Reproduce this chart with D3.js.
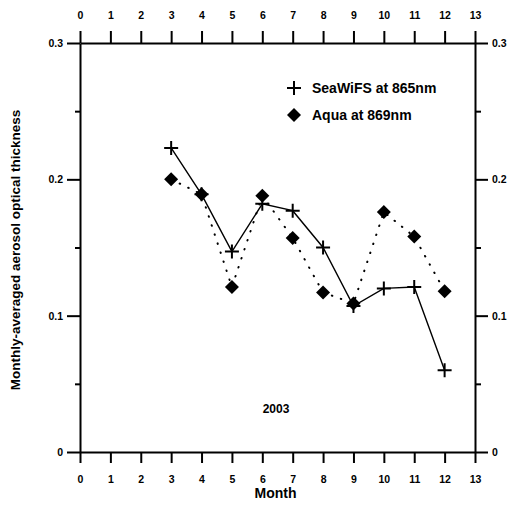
<!DOCTYPE html>
<html>
<head>
<meta charset="utf-8">
<script src="https://cdn.jsdelivr.net/npm/d3@7"></script>
<style>
  body { margin: 0; background: #fff; }
  text { font-family: "Liberation Sans", Arial, sans-serif; font-weight: bold; fill: #000; }
</style>
</head>
<body>
<div id="container"></div>
<script>
// data
const months = [3, 4, 5, 6, 7, 8, 9, 10, 11, 12];
const seawifs = [0.223, 0.189, 0.147, 0.182, 0.177, 0.150, 0.107, 0.120, 0.121, 0.060];
const aqua = [0.200, 0.189, 0.121, 0.188, 0.157, 0.117, 0.109, 0.176, 0.158, 0.118];
const xTicks = d3.range(0, 14);
const yTicks = [0, 0.1, 0.2, 0.3];
const yMinor = [0.05, 0.15, 0.25];
const yLabels = ["0", "0.1", "0.2", "0.3"];

// layout
const svgWidth = 523;
const svgHeight = 507;
const plotLeft = 80, plotRight = 475, plotTop = 43, plotBottom = 452;

const x = d3.scaleLinear().domain([0, 13]).range([plotLeft, plotRight]);
const y = d3.scaleLinear().domain([0, 0.3]).range([plotBottom, plotTop]);

const svg = d3.select("#container").append("svg")
  .attr("width", svgWidth)
  .attr("height", svgHeight);

// axes
function styleAxis(g) {
  g.selectAll("path").attr("stroke", "#000").attr("stroke-width", 2);
  g.selectAll("line").attr("stroke", "#000").attr("stroke-width", 2);
  g.selectAll("text").attr("font-size", 10.5);
}

svg.append("g")
  .attr("transform", `translate(0,${plotBottom})`)
  .call(d3.axisBottom(x).tickValues(xTicks).tickSize(11).tickSizeOuter(0).tickPadding(13))
  .call(styleAxis);

svg.append("g")
  .attr("transform", `translate(0,${plotTop})`)
  .call(d3.axisTop(x).tickValues(xTicks).tickSize(12).tickSizeOuter(0).tickPadding(12))
  .call(styleAxis);

svg.append("g")
  .attr("transform", `translate(${plotLeft},0)`)
  .call(d3.axisLeft(y).tickValues(yTicks).tickFormat((d, i) => yLabels[i]).tickSize(13).tickSizeOuter(0).tickPadding(4))
  .call(styleAxis);

svg.append("g")
  .attr("transform", `translate(${plotRight},0)`)
  .call(d3.axisRight(y).tickValues(yTicks).tickFormat((d, i) => yLabels[i]).tickSize(13).tickSizeOuter(0).tickPadding(4))
  .call(styleAxis);

// minor ticks on y
svg.append("g")
  .attr("transform", `translate(${plotLeft},0)`)
  .call(d3.axisLeft(y).tickValues(yMinor).tickSize(5).tickFormat(""))
  .call(styleAxis)
  .select(".domain").remove();

svg.append("g")
  .attr("transform", `translate(${plotRight},0)`)
  .call(d3.axisRight(y).tickValues(yMinor).tickSize(6).tickFormat(""))
  .call(styleAxis)
  .select(".domain").remove();

// axis titles
svg.append("text")
  .attr("x", (plotLeft + plotRight) / 2 - 2)
  .attr("y", 498)
  .attr("text-anchor", "middle")
  .attr("font-size", 14)
  .text("Month");

svg.append("text")
  .attr("transform", `translate(20,250) rotate(-90)`)
  .attr("text-anchor", "middle")
  .attr("font-size", 13.5)
  .text("Monthly-averaged aerosol optical thickness");

svg.append("text")
  .attr("x", 276)
  .attr("y", 413)
  .attr("text-anchor", "middle")
  .attr("font-size", 12)
  .text("2003");

// lines
const line = d3.line().x(d => x(d[0])).y(d => y(d[1]));

svg.append("path")
  .datum(months.map((m, i) => [m, seawifs[i]]))
  .attr("fill", "none")
  .attr("stroke", "#000")
  .attr("stroke-width", 1.4)
  .attr("d", line);

svg.append("path")
  .datum(months.map((m, i) => [m, aqua[i]]))
  .attr("fill", "none")
  .attr("stroke", "#000")
  .attr("stroke-width", 2)
  .attr("stroke-linecap", "round")
  .attr("stroke-dasharray", "0.5 9")
  .attr("d", line);

// markers
const crossPath = "M-7,0H7M0,-7V7";
const diamondPath = "M0,-7L7,0L0,7L-7,0Z";

svg.append("g").selectAll("path")
  .data(months.map((m, i) => [m, aqua[i]]))
  .join("path")
  .attr("transform", d => `translate(${x(d[0])},${y(d[1])})`)
  .attr("d", diamondPath)
  .attr("fill", "#000");

svg.append("g").selectAll("path")
  .data(months.map((m, i) => [m, seawifs[i]]))
  .join("path")
  .attr("transform", d => `translate(${x(d[0])},${y(d[1])})`)
  .attr("d", crossPath)
  .attr("stroke", "#000")
  .attr("stroke-width", 2)
  .attr("fill", "none");

// legend
const legend = svg.append("g");
legend.append("path")
  .attr("transform", "translate(294,88)")
  .attr("d", crossPath)
  .attr("stroke", "#000")
  .attr("stroke-width", 2);
legend.append("text")
  .attr("x", 312)
  .attr("y", 93)
  .attr("font-size", 14)
  .text("SeaWiFS at 865nm");
legend.append("path")
  .attr("transform", "translate(294,115)")
  .attr("d", diamondPath)
  .attr("fill", "#000");
legend.append("text")
  .attr("x", 312)
  .attr("y", 120)
  .attr("font-size", 14)
  .text("Aqua at 869nm");
</script>
</body>
</html>
